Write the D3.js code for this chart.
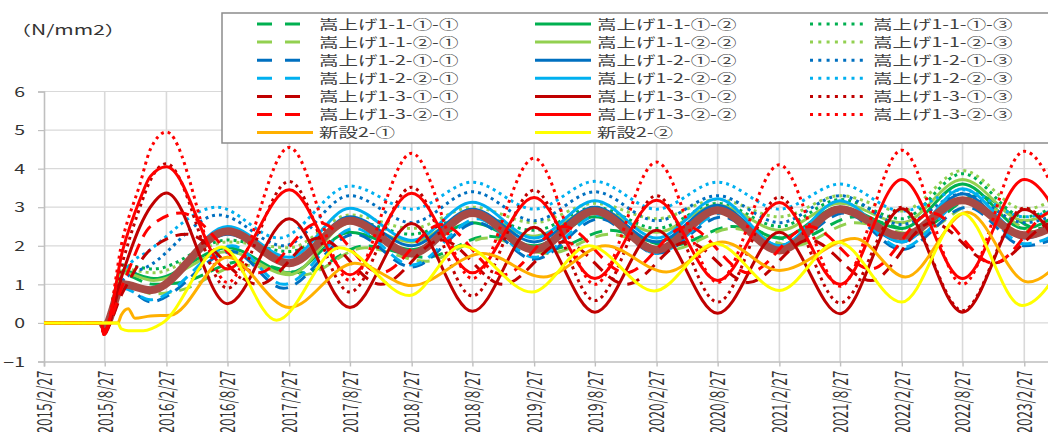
<!DOCTYPE html>
<html>
<head>
<meta charset="utf-8">
<script src="https://cdn.jsdelivr.net/npm/d3@7"></script>
<style>
  html, body { margin: 0; padding: 0; background: #ffffff; }
  svg { display: block; }
  text { font-family: "Noto Sans CJK JP", "Noto Sans", sans-serif; }
</style>
</head>
<body>
<svg id="chart" width="1048" height="432"></svg>
<script>
// ---- axis ticks ----
const xTickLabels = ["2015/2/27","2015/8/27","2016/2/27","2016/8/27","2017/2/27","2017/8/27",
  "2018/2/27","2018/8/27","2019/2/27","2019/8/27","2020/2/27","2020/8/27",
  "2021/2/27","2021/8/27","2022/2/27","2022/8/27","2023/2/27"];
const yTicks = [-1, 0, 1, 2, 3, 4, 5, 6];
const unitLabel = "（N/mm2）";

// ---- series names (legend order) ----
const seriesNames = [
  "嵩上げ1-1-①-①","嵩上げ1-1-①-②","嵩上げ1-1-①-③",
  "嵩上げ1-1-②-①","嵩上げ1-1-②-②","嵩上げ1-1-②-③",
  "嵩上げ1-2-①-①","嵩上げ1-2-①-②","嵩上げ1-2-①-③",
  "嵩上げ1-2-②-①","嵩上げ1-2-②-②","嵩上げ1-2-②-③",
  "嵩上げ1-3-①-①","嵩上げ1-3-①-②","嵩上げ1-3-①-③",
  "嵩上げ1-3-②-①","嵩上げ1-3-②-②","嵩上げ1-3-②-③",
  "新設2-①","新設2-②"
];

// ---- measured stress, [date, N/mm2] ----
const s11_1_1 = [["2015-02-27",0],["2015-08-17",0],["2015-08-25",-0.1],["2015-10-20",1.25],["2016-01-20",1.0],["2016-04-10",1.05],["2016-10-10",1.6],["2017-04-10",1.3],["2017-10-10",2.0],["2018-04-10",1.7],["2018-10-10",2.25],["2019-04-10",1.9],["2019-10-10",2.4],["2020-04-10",2.0],["2020-10-10",2.5],["2021-04-10",2.15],["2021-10-10",2.75],["2022-04-10",2.4],["2022-10-10",3.3],["2023-04-10",2.45],["2023-08-27",2.9]];
const s11_1_2 = [["2015-02-27",0],["2015-08-17",0],["2015-08-25",-0.1],["2015-10-20",1.35],["2016-01-20",1.15],["2016-08-27",1.95],["2017-02-27",1.3],["2017-08-27",2.35],["2018-02-27",1.9],["2018-08-27",2.6],["2019-02-27",2.0],["2019-08-27",2.75],["2020-02-27",2.1],["2020-08-27",2.9],["2021-02-27",2.2],["2021-08-27",3.0],["2022-02-27",2.45],["2022-08-27",3.6],["2023-02-27",2.45],["2023-08-27",3.5]];
const s11_1_3 = [["2015-02-27",0],["2015-08-17",0],["2015-08-25",-0.1],["2015-10-20",1.5],["2016-01-20",1.4],["2016-08-27",2.15],["2017-02-27",1.85],["2017-08-27",2.65],["2018-02-27",2.3],["2018-08-27",2.8],["2019-02-27",2.4],["2019-08-27",3.0],["2020-02-27",2.45],["2020-08-27",3.1],["2021-02-27",2.5],["2021-08-27",3.2],["2022-02-27",2.7],["2022-08-27",3.87],["2023-02-27",2.75],["2023-08-27",3.7]];
const s11_2_1 = [["2015-02-27",0],["2015-08-17",0],["2015-08-25",-0.1],["2015-10-20",1.0],["2016-01-20",0.75],["2016-04-10",0.85],["2016-10-10",1.5],["2017-04-10",1.25],["2017-10-10",1.95],["2018-04-10",1.6],["2018-10-10",2.2],["2019-04-10",1.8],["2019-10-10",2.3],["2020-04-10",1.9],["2020-10-10",2.45],["2021-04-10",2.0],["2021-10-10",2.6],["2022-04-10",2.3],["2022-10-10",3.1],["2023-04-10",2.35],["2023-08-27",2.8]];
const s11_2_2 = [["2015-02-27",0],["2015-08-17",0],["2015-08-25",-0.1],["2015-10-20",1.3],["2016-01-20",1.1],["2016-08-27",1.85],["2017-02-27",1.25],["2017-08-27",2.6],["2018-02-27",2.1],["2018-08-27",2.85],["2019-02-27",2.25],["2019-08-27",2.95],["2020-02-27",2.35],["2020-08-27",3.05],["2021-02-27",2.4],["2021-08-27",3.1],["2022-02-27",2.6],["2022-08-27",3.72],["2023-02-27",2.65],["2023-08-27",3.6]];
const s11_2_3 = [["2015-02-27",0],["2015-08-17",0],["2015-08-25",-0.1],["2015-10-20",1.4],["2016-01-20",1.3],["2016-08-27",2.1],["2017-02-27",1.95],["2017-08-27",2.8],["2018-02-27",2.45],["2018-08-27",3.0],["2019-02-27",2.6],["2019-08-27",3.1],["2020-02-27",2.7],["2020-08-27",3.2],["2021-02-27",2.75],["2021-08-27",3.3],["2022-02-27",2.9],["2022-08-27",3.95],["2023-02-27",2.95],["2023-08-27",3.85]];
const s12_1_1 = [["2015-02-27",0],["2015-08-17",0],["2015-08-25",-0.1],["2015-10-20",0.95],["2016-01-10",0.55],["2016-09-10",1.85],["2017-02-10",0.9],["2017-09-10",2.3],["2018-02-27",1.45],["2018-09-10",2.6],["2019-02-27",1.65],["2019-09-10",2.7],["2020-02-27",1.8],["2020-09-10",2.75],["2021-02-27",1.85],["2021-09-10",2.85],["2022-02-27",1.9],["2022-09-10",3.0],["2023-02-27",2.0],["2023-08-27",2.6]];
const s12_1_2 = [["2015-02-27",0],["2015-08-17",0],["2015-08-25",-0.1],["2015-10-20",1.0],["2016-01-10",0.9],["2016-08-27",2.3],["2017-02-27",1.6],["2017-08-27",2.75],["2018-02-27",2.0],["2018-08-27",2.95],["2019-02-27",2.1],["2019-08-27",3.0],["2020-02-27",2.1],["2020-08-27",3.05],["2021-02-27",2.0],["2021-08-27",3.0],["2022-02-27",2.1],["2022-08-27",3.35],["2023-02-27",2.2],["2023-08-27",3.3]];
const s12_1_3 = [["2015-02-27",0],["2015-08-17",0],["2015-08-25",-0.1],["2015-10-20",1.1],["2016-01-10",1.5],["2016-08-01",2.8],["2017-02-10",2.0],["2017-08-27",3.3],["2018-02-27",2.6],["2018-08-27",3.4],["2019-02-27",2.65],["2019-08-27",3.4],["2020-02-27",2.65],["2020-08-27",3.3],["2021-02-27",2.6],["2021-08-27",3.3],["2022-02-27",2.55],["2022-08-27",3.35],["2023-02-27",2.6],["2023-08-27",3.3]];
const s12_2_1 = [["2015-02-27",0],["2015-08-17",0],["2015-08-25",-0.1],["2015-10-20",0.9],["2016-01-10",0.6],["2016-09-10",2.0],["2017-02-10",1.0],["2017-09-10",2.45],["2018-02-27",1.5],["2018-09-10",2.7],["2019-02-27",1.7],["2019-09-10",2.8],["2020-02-27",1.8],["2020-09-10",2.85],["2021-02-27",1.85],["2021-09-10",2.95],["2022-02-27",1.95],["2022-09-10",3.2],["2023-02-27",2.05],["2023-08-27",2.8]];
const s12_2_2 = [["2015-02-27",0],["2015-08-17",0],["2015-08-25",-0.1],["2015-10-20",0.95],["2016-01-10",0.85],["2016-08-27",2.5],["2017-02-27",1.7],["2017-08-27",2.97],["2018-02-27",2.14],["2018-08-27",3.13],["2019-02-27",2.2],["2019-08-27",3.17],["2020-02-27",2.2],["2020-08-27",3.22],["2021-02-27",2.0],["2021-08-27",3.17],["2022-02-27",2.1],["2022-08-27",3.48],["2023-02-27",2.3],["2023-08-27",3.4]];
const s12_2_3 = [["2015-02-27",0],["2015-08-17",0],["2015-08-25",-0.1],["2015-10-20",1.3],["2016-01-10",1.9],["2016-07-27",3.0],["2017-01-27",2.2],["2017-08-27",3.55],["2018-02-27",2.95],["2018-08-27",3.65],["2019-02-27",2.95],["2019-08-27",3.67],["2020-02-27",2.95],["2020-08-27",3.65],["2021-02-27",2.95],["2021-08-27",3.6],["2022-02-27",2.9],["2022-08-27",3.45],["2023-02-27",2.75],["2023-08-27",3.4]];
const s13_1_1 = [["2015-02-27",0],["2015-08-17",0],["2015-08-24",-0.2],["2015-10-20",0.8],["2016-01-10",1.9],["2016-04-27",2.3],["2016-11-27",1.0],["2017-05-27",2.2],["2017-11-27",1.0],["2018-05-27",2.15],["2018-11-27",1.0],["2019-05-27",2.1],["2019-11-27",1.0],["2020-05-27",2.1],["2020-11-27",1.05],["2021-05-27",2.15],["2021-11-27",1.1],["2022-05-27",2.6],["2022-11-27",1.55],["2023-05-27",2.6],["2023-08-27",2.2]];
const s13_1_2 = [["2015-02-27",0],["2015-08-17",0],["2015-08-24",-0.3],["2015-10-20",1.3],["2015-12-10",2.5],["2016-01-10",3.0],["2016-02-27",3.37],["2016-08-27",0.5],["2017-02-27",2.7],["2017-08-27",0.4],["2018-02-27",2.58],["2018-08-27",0.3],["2019-02-27",2.48],["2019-08-27",0.28],["2020-02-27",2.4],["2020-08-27",0.25],["2021-02-27",2.35],["2021-08-27",0.24],["2022-02-27",2.96],["2022-08-27",0.28],["2023-02-27",2.94],["2023-08-27",0.3]];
const s13_1_3 = [["2015-02-27",0],["2015-08-17",0],["2015-08-24",-0.3],["2015-10-20",1.6],["2015-12-10",3.0],["2016-01-10",3.7],["2016-02-27",4.13],["2016-08-27",0.9],["2017-02-27",3.67],["2017-08-27",0.8],["2018-02-27",3.52],["2018-08-27",0.7],["2019-02-27",3.44],["2019-08-27",0.58],["2020-02-27",3.3],["2020-08-27",0.54],["2021-02-27",3.26],["2021-08-27",0.52],["2022-02-27",3.0],["2022-08-27",0.32],["2023-02-27",2.98],["2023-08-27",0.35]];
const s13_2_1 = [["2015-02-27",0],["2015-08-17",0],["2015-08-24",-0.2],["2015-10-20",1.0],["2016-01-10",2.5],["2016-04-10",2.85],["2016-11-27",1.3],["2017-05-27",2.6],["2017-11-27",1.3],["2018-05-27",2.55],["2018-11-27",1.25],["2019-05-27",2.5],["2019-11-27",1.3],["2020-05-27",2.5],["2020-11-27",1.3],["2021-05-27",2.5],["2021-11-27",1.4],["2022-05-27",2.85],["2022-11-27",1.55],["2023-05-27",2.9],["2023-08-27",2.5]];
const s13_2_2 = [["2015-02-27",0],["2015-08-17",0],["2015-08-24",-0.3],["2015-10-20",1.9],["2015-12-10",3.2],["2016-01-10",3.8],["2016-02-27",4.05],["2016-08-27",1.4],["2017-02-27",3.45],["2017-08-27",1.25],["2018-02-27",3.36],["2018-08-27",1.3],["2019-02-27",3.25],["2019-08-27",1.15],["2020-02-27",3.18],["2020-08-27",1.1],["2021-02-27",3.12],["2021-08-27",1.0],["2022-02-27",3.72],["2022-08-27",1.15],["2023-02-27",3.72],["2023-08-27",1.15]];
const s13_2_3 = [["2015-02-27",0],["2015-08-17",0],["2015-08-24",-0.3],["2015-10-20",2.2],["2015-12-10",3.6],["2016-01-10",4.5],["2016-02-27",4.95],["2016-08-27",1.05],["2017-02-27",4.55],["2017-08-27",1.1],["2018-02-27",4.4],["2018-08-27",1.15],["2019-02-27",4.27],["2019-08-27",1.0],["2020-02-27",4.17],["2020-08-27",1.05],["2021-02-27",4.1],["2021-08-27",0.95],["2022-02-27",4.48],["2022-08-27",1.0],["2023-02-27",4.45],["2023-08-27",1.0]];
const n2_1 = [["2015-02-27",0],["2015-10-05",0],["2015-10-15",0.2],["2015-11-05",0.37],["2015-11-25",0.12],["2016-01-10",0.18],["2016-03-10",0.2],["2016-08-27",1.7],["2017-02-27",0.4],["2017-09-10",1.55],["2018-02-27",0.97],["2018-09-27",1.8],["2019-03-27",1.19],["2019-09-27",2.0],["2020-03-27",1.32],["2020-09-10",2.1],["2021-02-27",1.36],["2021-10-10",2.19],["2022-03-10",1.19],["2022-09-10",2.87],["2023-03-10",1.06],["2023-08-27",2.5]];
const n2_2 = [["2015-02-27",0],["2015-10-05",0],["2015-10-15",-0.15],["2015-11-05",-0.2],["2015-12-20",-0.2],["2016-02-15",0.0],["2016-08-10",1.97],["2017-01-20",0.07],["2017-07-27",1.95],["2018-02-20",0.71],["2018-07-27",2.0],["2019-02-20",0.8],["2019-08-10",2.0],["2020-02-20",0.83],["2020-08-20",2.06],["2021-02-27",0.84],["2021-08-20",2.1],["2022-02-27",0.54],["2022-08-27",2.84],["2023-02-20",0.45],["2023-08-27",2.7]];
// wide reference band
const bandValues = [["2015-08-20",0],["2015-08-26",-0.1],["2015-10-20",1.0],["2016-01-10",0.85],["2016-08-27",2.38],["2017-02-27",1.55],["2017-08-27",2.65],["2018-02-27",1.8],["2018-08-27",2.85],["2019-02-27",1.9],["2019-08-27",2.9],["2020-02-27",1.9],["2020-08-27",2.92],["2021-02-27",1.88],["2021-08-27",2.95],["2022-02-27",2.25],["2022-08-27",3.18],["2023-02-27",2.27],["2023-08-27",3.1]];

const seriesData = [s11_1_1,s11_1_2,s11_1_3,s11_2_1,s11_2_2,s11_2_3,
  s12_1_1,s12_1_2,s12_1_3,s12_2_1,s12_2_2,s12_2_3,
  s13_1_1,s13_1_2,s13_1_3,s13_2_1,s13_2_2,s13_2_3,n2_1,n2_2];

// ---- styling ----
const palette = {g:"#00B050", lg:"#92D050", b:"#0070C0", lb:"#00B0F0", dr:"#C00000", r:"#FF0000", o:"#FFB000", y:"#FFFF00"};
const colourKeys = ["g","g","g","lg","lg","lg","b","b","b","lb","lb","lb","dr","dr","dr","r","r","r","o","y"];
const dashKind = ["dash","solid","dot","dash","solid","dot","dash","solid","dot","dash","solid","dot","dash","solid","dot","dash","solid","dot","solid","solid"];
const chartDash = {dash:"13,8", solid:null, dot:"3,4"};
const legendDash = {dash:"15,13", solid:null, dot:"3,5.3"};
const SX = 1.5; // horizontal text stretch

const parseDay = d3.timeParse("%Y-%m-%d");
const parseTick = d3.timeParse("%Y/%m/%d");

const svg = d3.select("#chart");
const x = d3.scaleTime()
  .domain([parseDay("2015-02-27"), parseDay("2023-08-27")])
  .range([44, 1085]);
const y = d3.scaleLinear().domain([-1, 6]).range([361.5, 91.5]);

const tickDates = xTickLabels.map(parseTick);

// grid
const grid = svg.append("g");
grid.selectAll("line.h").data(yTicks.filter(v => v > -1)).join("line")
  .attr("x1", 44).attr("x2", 1048)
  .attr("y1", d => y(d)).attr("y2", d => y(d))
  .attr("stroke", "#d9d9d9").attr("stroke-width", 1.2);
grid.selectAll("line.v").data(tickDates.slice(1)).join("line")
  .attr("x1", d => x(d)).attr("x2", d => x(d))
  .attr("y1", y(6)).attr("y2", y(-1))
  .attr("stroke", "#d9d9d9").attr("stroke-width", 1.6);

// y axis
const yAxis = svg.append("g").attr("transform", "translate(44,0)")
  .call(d3.axisLeft(y).tickValues(yTicks).tickSize(6).tickPadding(0).tickFormat(d3.format("d")));
yAxis.select(".domain").attr("stroke", "#bfbfbf").attr("stroke-width", 1.6);
yAxis.selectAll(".tick line").attr("stroke", "#bfbfbf").attr("stroke-width", 1.2);
yAxis.selectAll(".tick text")
  .attr("x", -19 / SX).attr("dy", "0.36em")
  .attr("transform", `scale(${SX},1)`)
  .attr("fill", "#333").style("font-size", "13px").style("font-family", '"Noto Sans CJK JP", sans-serif');

// x axis
const xAxis = svg.append("g").attr("transform", `translate(0,${y(-1)})`)
  .call(d3.axisBottom(x).tickValues(tickDates).tickSize(5).tickFormat((d, i) => xTickLabels[i]));
xAxis.select(".domain").attr("stroke", "#bfbfbf").attr("stroke-width", 1.6);
xAxis.selectAll(".tick line").attr("stroke", "#bfbfbf").attr("stroke-width", 1.4);
xAxis.selectAll(".tick text")
  .attr("x", -9).attr("y", 0).attr("dy", "0.36em")
  .attr("text-anchor", "end")
  .attr("transform", `scale(${SX},1) rotate(-90)`)
  .attr("fill", "#333").style("font-size", "13.5px").style("font-family", '"Noto Sans CJK JP", sans-serif');

// unit label
svg.append("text").text(unitLabel)
  .attr("transform", `translate(10,35) scale(${SX},1)`)
  .attr("fill", "#333").style("font-size", "14px");

// lines
const lineGen = d3.line()
  .x(d => x(parseDay(d[0])))
  .y(d => y(d[1]))
  .curve(d3.curveMonotoneX);

const plot = svg.append("g");
const drawSeries = i => {
  plot.append("path").datum(seriesData[i])
    .attr("d", lineGen)
    .attr("fill", "none")
    .attr("stroke", palette[colourKeys[i]])
    .attr("stroke-width", 3)
    .attr("stroke-linejoin", "round")
    .attr("stroke-dasharray", chartDash[dashKind[i]]);
};
// 1-1 and 1-2 groups, then the wide band, then 1-3 and 新設
d3.range(0, 12).forEach(drawSeries);
plot.append("path").datum(bandValues)
  .attr("d", lineGen).attr("fill", "none")
  .attr("stroke", "#a84a45")
  .attr("stroke-width", 8).attr("stroke-linejoin", "round");
d3.range(12, 20).forEach(drawSeries);

// legend
const legend = svg.append("g");
legend.append("rect")
  .attr("x", 222).attr("y", 13).attr("width", 840).attr("height", 130)
  .attr("fill", "#ffffff").attr("stroke", "#8c8c8c").attr("stroke-width", 1.5);
const colX = [257, 535, 810];
const textX = [319, 597, 873];
seriesNames.forEach((name, i) => {
  const row = Math.floor(i / 3), col = i % 3;
  const cy = 24 + row * 18.1;
  legend.append("line")
    .attr("x1", colX[col]).attr("x2", colX[col] + 56)
    .attr("y1", cy).attr("y2", cy)
    .attr("stroke", palette[colourKeys[i]]).attr("stroke-width", 3)
    .attr("stroke-dasharray", legendDash[dashKind[i]]);
  legend.append("text").text(name)
    .attr("transform", `translate(${textX[col]},${cy}) scale(${SX},1)`)
    .attr("dy", "0.36em")
    .attr("fill", "#404040").style("font-size", "13px");
});
</script>
</body>
</html>
